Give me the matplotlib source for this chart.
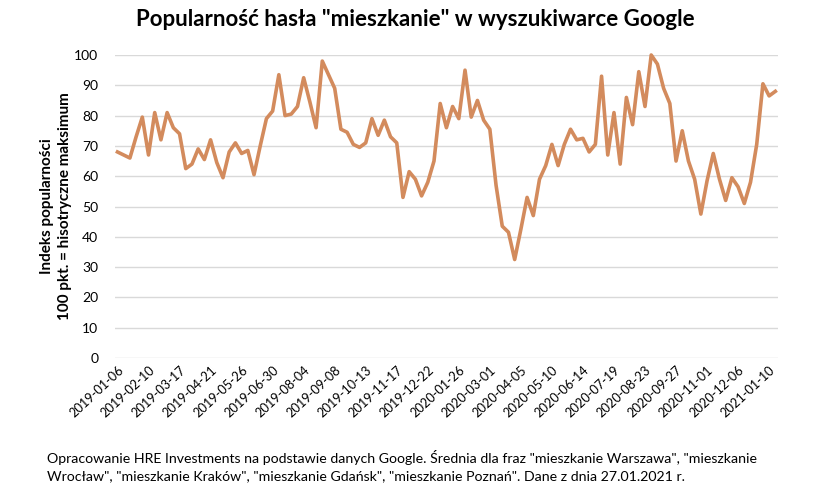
import numpy as np
import pandas as pd
import matplotlib as mpl
mpl.use('Agg')
import matplotlib.pyplot as plt

plt.rcParams["font.family"] = ["Lato", "DejaVu Sans"]

# Weekly index values (Google Trends), starting 2019-01-06
values = [68, 67, 66, 73, 79.5, 67, 81, 72, 81, 76,
          74, 62.5, 64, 69, 65.5, 72, 64.5, 59.5, 68, 71,
          67.5, 68.5, 60.5, 70, 79, 81.5, 93.5, 80, 80.5, 83,
          92.5, 84.5, 76, 98, 93.5, 89, 75.5, 74.5, 70.5, 69.5,
          71, 79, 73.5, 78.5, 73, 71, 53, 61.5, 59, 53.5,
          58, 65, 84, 76, 83, 79, 95, 79.5, 85, 78.5,
          75.5, 57, 43.5, 41.5, 32.5, 42.5, 53, 47, 59, 63.5,
          70.5, 63.5, 70.5, 75.5, 72, 72.5, 68, 70.5, 93, 67,
          81, 64, 86, 77, 94.5, 83, 100, 97, 89, 84,
          65, 75, 65, 59, 47.5, 58.5, 67.5, 59, 52, 59.5,
          56.5, 51, 58, 70.5, 90.5, 86.5, 88]
dates = pd.date_range('2019-01-06', periods=len(values), freq='7D')
tick_every = 5
yticks = list(range(0, 101, 10))

title = 'Popularność hasła "mieszkanie" w wyszukiwarce Google'
ylabel = 'Indeks popularności\n100 pkt. = hisotryczne maksimum'
note = ('Opracowanie HRE Investments na podstawie danych Google. Średnia dla fraz "mieszkanie Warszawa", "mieszkanie\n'
        'Wrocław", "mieszkanie Kraków", "mieszkanie Gdańsk", "mieszkanie Poznań". Dane z dnia 27.01.2021 r.')

fig = plt.figure(figsize=(8.15, 5.04), dpi=100)
ax = fig.add_axes([115/815, 1-358/504, (778-115)/815, (358-55)/504])

x = np.arange(len(values))
ax.plot(x, values, color='#D38B5D', lw=2.6, clip_on=False, solid_joinstyle='round', zorder=3)

ax.set_xlim(-0.4, len(values) - 1 + 0.43)
ax.set_ylim(0, 100)
ax.set_yticks(yticks)
ax.grid(axis='y', color='#D9D9D9', lw=1)
ax.set_axisbelow(True)
for s in ax.spines.values():
    s.set_visible(False)
ax.tick_params(length=0, labelsize=10, colors='#000000')
ax.tick_params(axis='y', pad=12)
ax.tick_params(axis='x', pad=4)

tick_pos = x[::tick_every]
ax.set_xticks(tick_pos)
ax.set_xticklabels([d.strftime('%Y-%m-%d') for d in dates[::tick_every]],
                   rotation=43, ha='right', rotation_mode='anchor', fontsize=9.2)

fig.text(56/815, 1-206/504, ylabel, ha='center', va='center', rotation=90,
         fontsize=11, fontweight='bold', linespacing=1.3, multialignment='center')

fig.text(0.509, 1-19/504, title, ha='center', va='center', fontsize=16, fontweight='bold')
fig.text(47/815, 1-466/504, note, ha='left', va='center', fontsize=10.2, linespacing=1.55)

plt.savefig('out.png', dpi=100)
